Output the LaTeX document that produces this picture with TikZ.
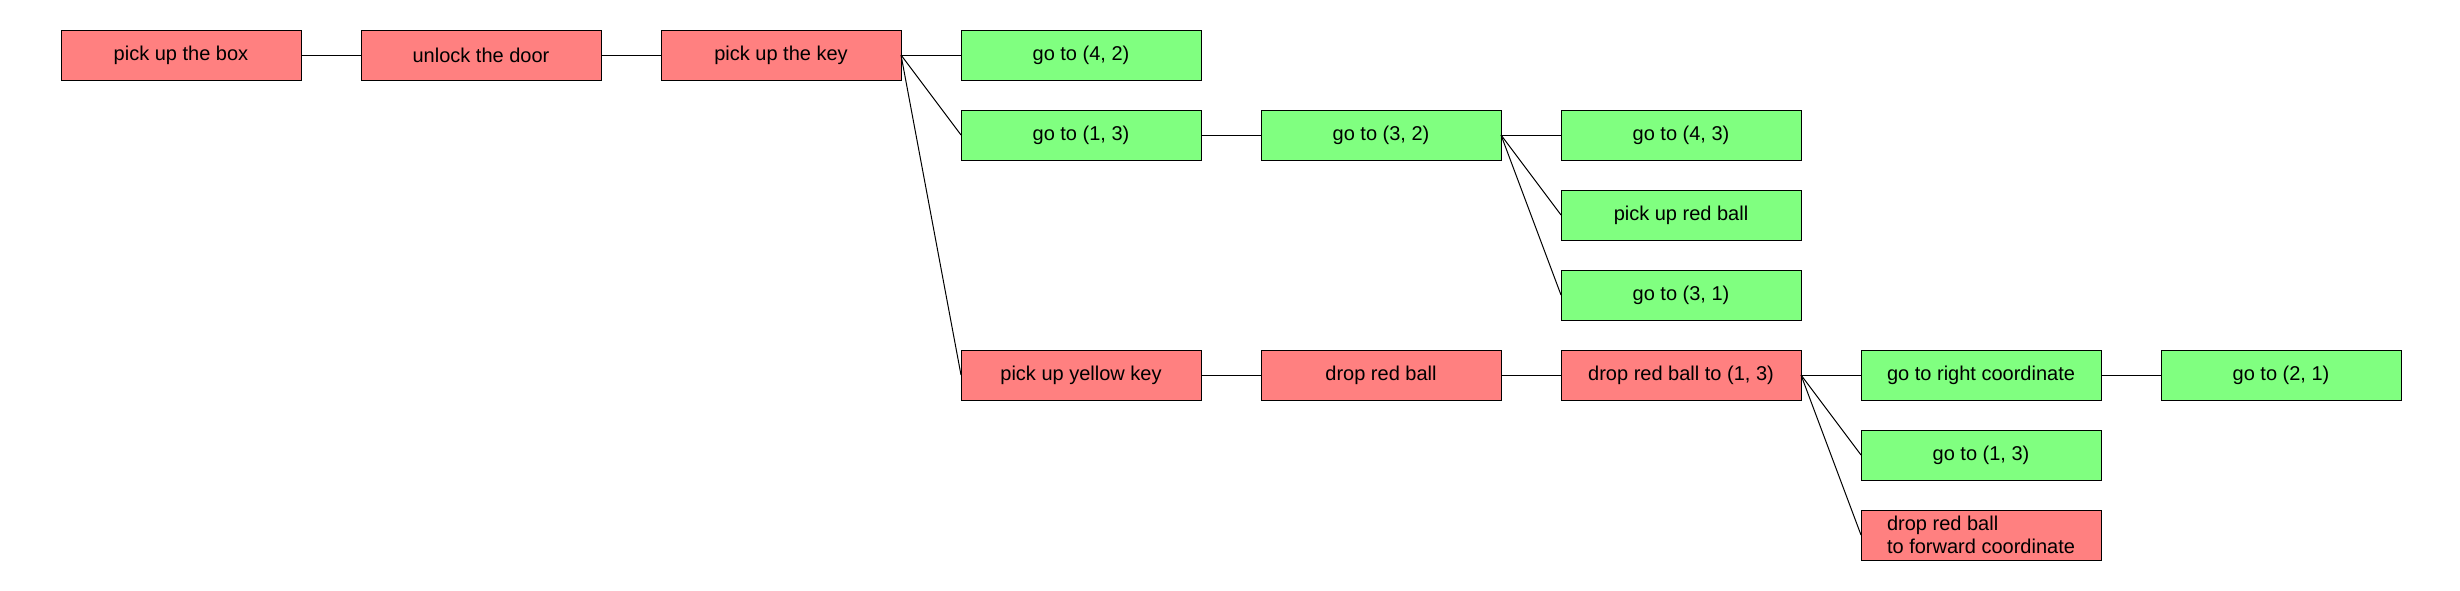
\documentclass[tikz,border=0pt]{standalone}
\usepackage{fontspec}
\setmainfont{Liberation Sans}
\usetikzlibrary{positioning}
\definecolor{taskred}{HTML}{FF8080}
\definecolor{taskgreen}{HTML}{80FF80}
\tikzset{
    task/.style={
           rectangle,
           draw=black, line width=0.5pt,
           minimum width=120pt,
           minimum height=25pt,
           inner sep=2pt, outer sep=0pt,
           text centered,
           font=\fontsize{10}{11.5}\selectfont,
           },
    redtask/.style={
           task,
           fill=taskred,
           },
    greentask/.style={
           task,
           fill=taskgreen,
           },
    link/.style={
           -, line width=0.5pt,
           },
}
\begin{document}
\begin{tikzpicture}[auto, node distance=15pt and 30pt]
	\useasboundingbox (0,0) rectangle (1230pt,-295pt);
	
	\node[redtask] (pickbox) at (90.5pt,-27.5pt) {pick up the box};
	\node[redtask, right=of pickbox] (unlock) {unlock the door};
	\node[redtask, right=of unlock] (pickkey) {pick up the key};
	
	\node[greentask, right=of pickkey] (goto42) {go to (4, 2)};
	\node[greentask, below=of goto42] (goto13) {go to (1, 3)};
	\node[greentask, right=of goto13] (goto32) {go to (3, 2)};
	\node[greentask, right=of goto32] (goto43) {go to (4, 3)};
	\node[greentask, below=of goto43] (pickball) {pick up red ball};
	\node[greentask, below=of pickball] (goto31) {go to (3, 1)};
	
	\node[redtask, below=95pt of goto13] (yellowkey) {pick up yellow key};
	\node[redtask, right=of yellowkey] (dropball) {drop red ball};
	\node[redtask, right=of dropball] (dropto13) {drop red ball to (1, 3)};
	\node[greentask, right=of dropto13] (rightcoord) {go to right coordinate};
	\node[greentask, right=of rightcoord] (goto21) {go to (2, 1)};
	\node[greentask, below=of rightcoord] (goto13b) {go to (1, 3)};
	\node[redtask, below=of goto13b, align=left] (dropfwd) {drop red ball\\to forward coordinate};
	
	
	\path[link]	(pickbox.east) edge (unlock.west)
				(unlock.east) edge (pickkey.west)
				(pickkey.east) edge (goto42.west)
				(pickkey.east) edge (goto13.west)
				(pickkey.east) edge (yellowkey.west);
	
	\path[link]	(goto13.east) edge (goto32.west)
				(goto32.east) edge (goto43.west)
				(goto32.east) edge (pickball.west)
				(goto32.east) edge (goto31.west);
	
	\path[link]	(yellowkey.east) edge (dropball.west)
				(dropball.east) edge (dropto13.west)
				(dropto13.east) edge (rightcoord.west)
				(dropto13.east) edge (goto13b.west)
				(dropto13.east) edge (dropfwd.west)
				(rightcoord.east) edge (goto21.west);
	
\end{tikzpicture}
\end{document}
